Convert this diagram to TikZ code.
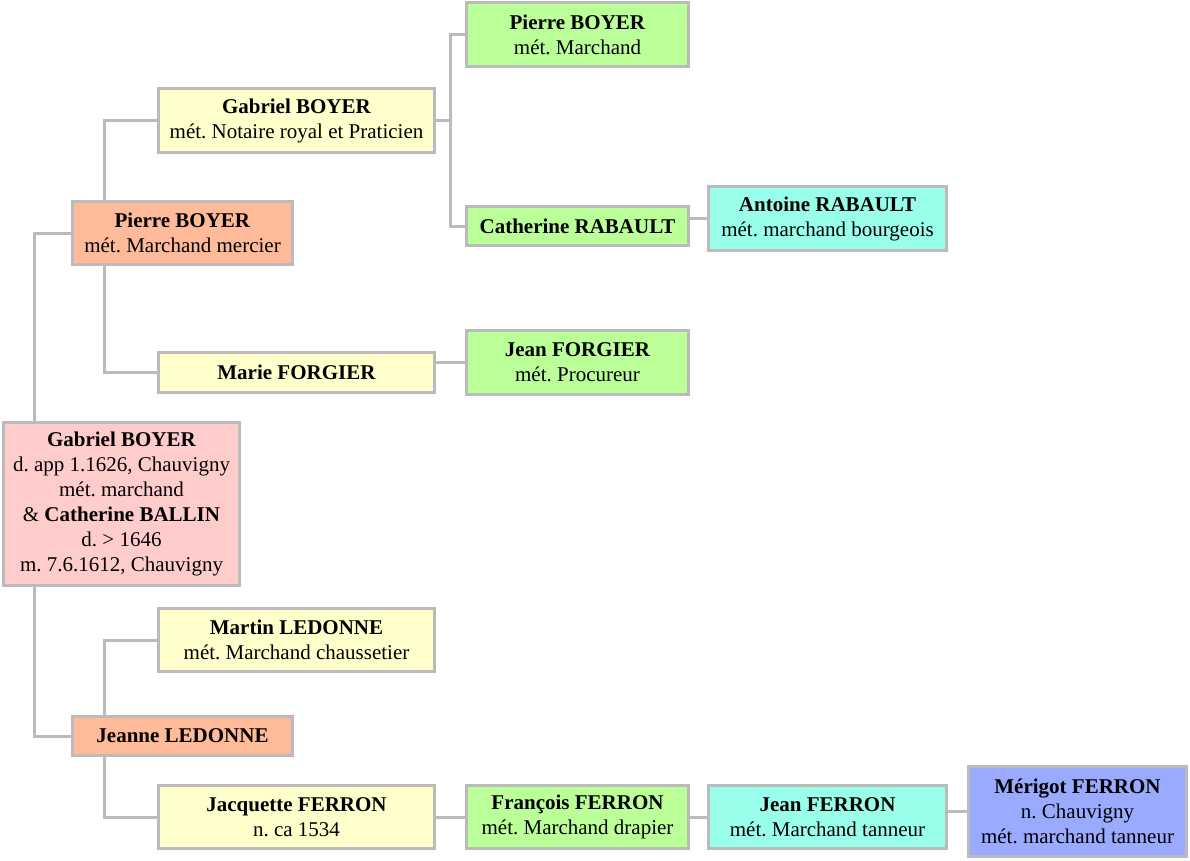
\documentclass[tikz,border=0pt]{standalone}
\usepackage{fontspec}
\setmainfont{Liberation Serif}
\usetikzlibrary{backgrounds}
\frenchspacing
\definecolor{bordergray}{HTML}{BBBBBB}
\definecolor{cpink}{HTML}{FFCCCC}
\definecolor{corange}{HTML}{FFBB99}
\definecolor{cyellow}{HTML}{FFFFCC}
\definecolor{cgreen}{HTML}{BBFF99}
\definecolor{ccyan}{HTML}{99FFEA}
\definecolor{cblue}{HTML}{99AAFF}
\tikzset{
  person/.style={draw=bordergray, line width=3pt, inner sep=0pt, align=center,
    font=\fontsize{21}{25}\selectfont\frenchspacing},
  link/.style={draw=bordergray, line width=3pt},
}
\begin{document}
\begin{tikzpicture}[x=1pt,y=-1pt]
\useasboundingbox (0,0) rectangle (1190,860);
% generation 1
\node[person, fill=cpink, minimum width=236, minimum height=163] (root) at (121.5,504)
  {\textbf{Gabriel BOYER}\\d. app 1.1626, Chauvigny\\mét. marchand\\\& \textbf{Catherine BALLIN}\\d. > 1646\\m. 7.6.1612, Chauvigny};
% generation 2
\node[person, fill=corange, minimum width=220, minimum height=63] (pb) at (182.5,233)
  {\textbf{Pierre BOYER}\\mét. Marchand mercier};
\node[person, fill=corange, minimum width=220, minimum height=39] (jl) at (182.5,736)
  {\textbf{Jeanne LEDONNE}};
% generation 3
\node[person, fill=cyellow, minimum width=276, minimum height=64] (gb) at (296.5,120.5)
  {\textbf{Gabriel BOYER}\\mét. Notaire royal et Praticien};
\node[person, fill=cyellow, minimum width=276, minimum height=40] (mf) at (296.5,372.5)
  {\textbf{Marie FORGIER}};
\node[person, fill=cyellow, minimum width=276, minimum height=63] (ml) at (296.5,640)
  {\textbf{Martin LEDONNE}\\mét. Marchand chaussetier};
\node[person, fill=cyellow, minimum width=276, minimum height=63] (jaf) at (296.5,817)
  {\textbf{Jacquette FERRON}\\n. ca 1534};
% generation 4
\node[person, fill=cgreen, minimum width=222, minimum height=64] (pb2) at (577.5,34.5)
  {\textbf{Pierre BOYER}\\mét. Marchand};
\node[person, fill=cgreen, minimum width=222, minimum height=39] (cr) at (577.5,226)
  {\textbf{Catherine RABAULT}};
\node[person, fill=cgreen, minimum width=222, minimum height=64] (jf) at (577.5,362.5)
  {\textbf{Jean FORGIER}\\mét. Procureur};
\node[person, fill=cgreen, minimum width=222, minimum height=63] (ff) at (577.5,817)
  {\textbf{François FERRON}\\mét. Marchand drapier};
% generation 5
\node[person, fill=ccyan, minimum width=238, minimum height=64] (ar) at (827.5,218.5)
  {\textbf{Antoine RABAULT}\\mét. marchand bourgeois};
\node[person, fill=ccyan, minimum width=238, minimum height=63] (jef) at (827.5,817)
  {\textbf{Jean FERRON}\\mét. Marchand tanneur};
% generation 6
\node[person, fill=cblue, minimum width=218, minimum height=90] (mef) at (1077.5,811.5)
  {\textbf{Mérigot FERRON}\\n. Chauvigny\\mét. marchand tanneur};
% connectors
\begin{pgfonlayer}{background}
\draw[link] ([xshift=32.5]root.north west) |- (pb.west);
\draw[link] ([xshift=32.5]root.south west) |- (jl.west);
\draw[link] ([xshift=33.5]pb.north west) |- (gb.west);
\draw[link] ([xshift=33.5]pb.south west) |- (mf.west);
\draw[link] ([xshift=33.5]jl.north west) |- (ml.west);
\draw[link] ([xshift=33.5]jl.south west) |- (jaf.west);
\draw[link] (gb.east) -- ([xshift=14]gb.east);
\draw[link] (pb2.west) -| ([xshift=14]gb.east) |- (cr.west);
\draw[link] (jf.west) -- (jf.west -| mf.east);
\draw[link] (ar.west) -- (ar.west -| cr.east);
\draw[link] (jaf.east) -- (ff.west);
\draw[link] (ff.east) -- (jef.west);
\draw[link] (mef.west) -- (mef.west -| jef.east);
\end{pgfonlayer}
\end{tikzpicture}
\end{document}
